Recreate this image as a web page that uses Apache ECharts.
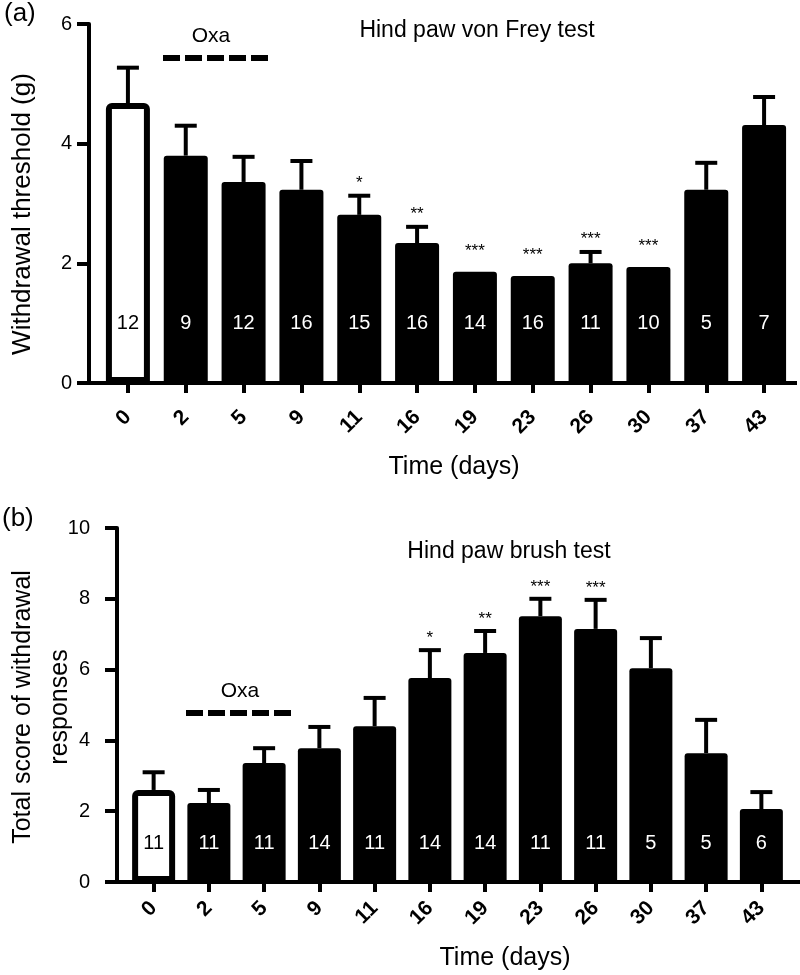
<!DOCTYPE html>
<html><head><meta charset="utf-8">
<script src="https://cdn.jsdelivr.net/npm/echarts@6/dist/echarts.min.js"></script>
<style>html,body{margin:0;padding:0;background:#fff}#c{width:800px;height:975px}</style>
</head><body><div id="c"></div>
<script>
// ---------- data ----------
const days = ['0','2','5','9','11','16','19','23','26','30','37','43'];
// (a) Hind paw von Frey test
const vfMean = [4.68, 3.80, 3.36, 3.23, 2.81, 2.34, 1.86, 1.79, 2.00, 1.94, 3.23, 4.31];
const vfSem  = [0.59, 0.50, 0.42, 0.48, 0.32, 0.27, 0.00, 0.00, 0.19, 0.00, 0.45, 0.47];
const vfN    = [12, 9, 12, 16, 15, 16, 14, 16, 11, 10, 5, 7];
const vfSig  = ['', '', '', '', '*', '**', '***', '***', '***', '***', '', ''];
const vfTicks = [0, 2, 4, 6];
// (b) Hind paw brush test
const brMean = [2.60, 2.23, 3.36, 3.78, 4.40, 5.76, 6.47, 7.51, 7.15, 6.04, 3.64, 2.06];
const brSem  = [0.50, 0.37, 0.42, 0.60, 0.80, 0.79, 0.62, 0.49, 0.82, 0.85, 0.94, 0.48];
const brN    = [11, 11, 11, 14, 11, 14, 14, 11, 11, 5, 5, 6];
const brSig  = ['', '', '', '', '', '*', '**', '***', '***', '', '', ''];
const brTicks = [0, 2, 4, 6, 8, 10];

// ---------- styling / layout ----------
const FF = "'Liberation Sans', Arial, Helvetica, sans-serif";
const panels = [
  {grid:{left:99, right:7, top:24, height:359}, yOff:10, yMax:6, ticks:vfTicks, labMargin:17, xMargin:31, barW:44, nLevel:1.0, starGap:4,
   mean:vfMean, sem:vfSem, n:vfN, sig:vfSig, lineEnd:797},
  {grid:{left:126, right:11, top:528, height:354}, yOff:9, yMax:10, ticks:brTicks, labMargin:27, xMargin:23, barW:43, nLevel:1.1, starGap:3,
   mean:brMean, sem:brSem, n:brN, sig:brSig, lineEnd:800}
];

const chart = echarts.init(document.getElementById('c'), null, {renderer:'canvas'});

const grids = [], xAxes = [], yAxes = [], series = [];
panels.forEach((p, k) => {
  grids.push(Object.assign({outerBoundsMode:'none', containLabel:false}, p.grid));
  xAxes.push({
    gridIndex:k, type:'category', data:days, boundaryGap:true,
    axisLine:{show:false},
    axisTick:{show:true, alignWithLabel:true, length:10, lineStyle:{color:'#000', width:4}},
    axisLabel:{rotate:45, margin:p.xMargin, color:'#000', fontSize:21, fontWeight:'bold', fontFamily:FF, interval:0},
    splitLine:{show:false}
  });
  yAxes.push({
    gridIndex:k, type:'value', min:0, max:p.yMax, interval:2, offset:p.yOff,
    axisLine:{show:true, lineStyle:{color:'#000', width:4}},
    axisTick:{show:true, length:12, lineStyle:{color:'#000', width:4}},
    axisLabel:{margin:p.labMargin, color:'#000', fontSize:20, fontFamily:FF,
      formatter: v => p.ticks.indexOf(v) >= 0 ? String(v) : ''},
    splitLine:{show:false}
  });
  series.push({
    type:'bar', xAxisIndex:k, yAxisIndex:k, barWidth:p.barW, z:2,
    itemStyle:{color:'#000', borderRadius:[3,3,0,0]},
    data: p.mean.map((v, i) => i === 0
      ? {value:v, itemStyle:{color:'#fff', borderColor:'#000', borderWidth:6, borderRadius:[3,3,0,0]}}
      : v)
  });
  // error bars (upper only)
  series.push({
    type:'custom', xAxisIndex:k, yAxisIndex:k, z:3,
    data: p.mean.map((v, i) => [i, v, p.sem[i]]),
    renderItem: (params, api) => {
      const i = api.value(0), m = api.value(1), s = api.value(2);
      if (!(s > 0)) return null;
      const a = api.coord([i, m]), b = api.coord([i, m + s]);
      return {type:'group', children:[
        {type:'line', shape:{x1:a[0], y1:a[1], x2:b[0], y2:b[1]}, style:{stroke:'#000', lineWidth:4}},
        {type:'line', shape:{x1:b[0]-11, y1:b[1], x2:b[0]+11, y2:b[1]}, style:{stroke:'#000', lineWidth:4}}
      ]};
    }
  });
  // significance stars
  series.push({
    type:'custom', xAxisIndex:k, yAxisIndex:k, z:4,
    data: p.mean.map((v, i) => [i, v + p.sem[i], p.sig[i]]),
    renderItem: (params, api) => {
      const i = api.value(0), t = api.value(1);
      const txt = p.sig[i];
      if (!txt) return null;
      const c = api.coord([i, t]);
      const extra = p.sem[i] > 0 ? 0 : 8;
      return {type:'text', x:c[0], y:c[1] - p.starGap - extra,
        style:{text:txt, fill:'#000', font:'17px ' + FF, align:'center', verticalAlign:'bottom'}};
    }
  });
  // sample sizes inside bars
  series.push({
    type:'custom', xAxisIndex:k, yAxisIndex:k, z:5,
    data: p.n.map((v, i) => [i, p.nLevel, v]),
    renderItem: (params, api) => {
      const i = api.value(0);
      const c = api.coord([i, api.value(1)]);
      return {type:'text', x:c[0], y:c[1],
        style:{text:String(p.n[i]), fill: i === 0 ? '#000' : '#fff', font:'20px ' + FF, align:'center', verticalAlign:'middle'}};
    }
  });
});

function txt(text, x, y, size, opts) {
  return Object.assign({type:'text', x:x, y:y, z:10, silent:true,
    style:{text:text, fill:'#000', font:size + 'px ' + FF, align:'center', verticalAlign:'middle'}}, opts || {});
}

chart.setOption({
  animation:false,
  backgroundColor:'#fff',
  grid:grids, xAxis:xAxes, yAxis:yAxes, series:series
});

// axis baselines and annotations
const g = [];
panels.forEach((p, k) => {
  const y0 = chart.convertToPixel({yAxisIndex:k}, 0);
  const xStart = p.grid.left - p.yOff - 2;
  g.push({type:'line', z:10, shape:{x1:xStart, y1:y0, x2:p.lineEnd, y2:y0}, style:{stroke:'#000', lineWidth:4}});
});
g.push({type:'text', x:4, y:14, z:10, style:{text:'(a)', fill:'#000', font:'26px ' + FF, align:'left', verticalAlign:'middle'}});
g.push({type:'text', x:2, y:519, z:10, style:{text:'(b)', fill:'#000', font:'26px ' + FF, align:'left', verticalAlign:'middle'}});
g.push(txt('Hind paw von Frey test', 477, 31, 23));
g.push(txt('Hind paw brush test', 509, 552, 23));
g.push(txt('Oxa', 211, 36, 21));
g.push(txt('Oxa', 240, 691, 21));
g.push({type:'line', z:10, shape:{x1:163, y1:58, x2:268, y2:58}, style:{stroke:'#000', lineWidth:6, lineDash:[17,5]}});
g.push({type:'line', z:10, shape:{x1:186, y1:713, x2:292, y2:713}, style:{stroke:'#000', lineWidth:6, lineDash:[17,5]}});
g.push(txt('Withdrawal threshold (g)', 23, 214, 26, {rotation:Math.PI/2}));
g.push({type:'text', x:42, y:707, z:10, rotation:Math.PI/2,
  style:{text:'Total score of withdrawal\nresponses', fill:'#000', font:'25px ' + FF, align:'center', verticalAlign:'middle', lineHeight:37}});
g.push(txt('Time (days)', 454, 467, 25));
g.push(txt('Time (days)', 505, 958, 25));
chart.setOption({graphic:{elements:g}});
</script>
</body></html>
